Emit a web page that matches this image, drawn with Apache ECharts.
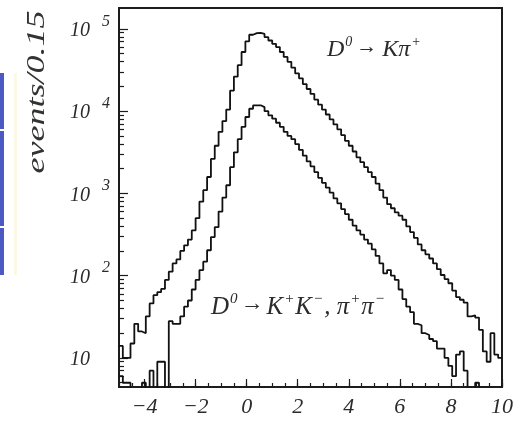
<!DOCTYPE html>
<html>
<head>
<meta charset="utf-8">
<script src="https://cdn.jsdelivr.net/npm/echarts@6/dist/echarts.min.js"></script>
<style>
  html, body { margin: 0; padding: 0; background: #ffffff; }
  #chart { width: 519px; height: 422px; }
</style>
</head>
<body>
<div id="chart"></div>
<script>
// Histogram binning: 100 bins of width 0.15 starting at -5
const binStart = -5;
const binWidth = 0.15;

// Events per bin, D0 -> K pi+
const kpiCounts = [
  14, 10, 10, 15, 26, 21, 20, 32, 46, 58,
  63, 69, 89, 112, 141, 158, 200, 234, 275, 355,
  501, 794, 1096, 1585, 2630, 3802, 5623, 7586, 10471, 17783,
  26303, 36308, 52481, 70795, 85114, 89125, 89600, 87096, 79433, 72444,
  66069, 60256, 52481, 45709, 39811, 33884, 28840, 25119, 21380, 18621,
  16218, 13804, 12023, 10471, 9120, 7943, 6918, 6026, 5129, 4365,
  3802, 3236, 2754, 2399, 2089, 1820, 1585, 1318, 1096, 891,
  741, 661, 589, 537, 479, 398, 339, 288, 240, 204,
  182, 162, 141, 120, 102, 91, 81, 66, 55, 51,
  47, 32, 33, 31, 22, 12, 9, 20, 11, 10
];

// Events per bin, D0 -> K+K-, pi+pi-
const hhCounts = [
  6, 5, 5, 0, 0, 0, 5, 0, 7, 0,
  9, 9, 0, 28, 26, 26, 32, 42, 50, 68,
  89, 117, 148, 204, 295, 389, 603, 891, 1259, 2089,
  3162, 4571, 6457, 8511, 10715, 11749, 11800, 11220, 10000, 8913,
  8128, 7244, 6457, 5623, 5012, 4571, 3981, 3388, 2884, 2455,
  2138, 1820, 1549, 1349, 1175, 1023, 871, 759, 646, 562,
  479, 407, 355, 316, 275, 245, 209, 174, 141, 107,
  117, 100, 89, 68, 52, 42, 36, 26, 25, 20,
  19, 17, 16, 13, 13, 10, 8, 6, 11, 12,
  7, 0, 0, 5, 0, 0, 0, 0, 0, 0
];

// Axis ticks
const xTickValues = [-4, -2, 0, 2, 4, 6, 8, 10];
const yDecades = [1, 2, 3, 4, 5];           // log10 of 10 ... 10^5
const yExponents = [2, 3, 4, 5];            // decades that carry a written exponent
const yMinorMultipliers = [2, 3, 4, 5, 6, 7, 8, 9];

// Axis ranges (x in units, y in log10 of events)
const xRange = [-5, 10];
const yRange = [0.647, 5.255];

function toLog(c) { return Math.log10(Math.max(c, 1)); }

// Step outline: one point at each bin's left edge, plus the closing right edge
function stepPoints(counts) {
  const pts = counts.map((c, i) => [binStart + i * binWidth, toLog(c)]);
  pts.push([binStart + counts.length * binWidth, toLog(counts[counts.length - 1])]);
  return pts;
}

const yMinorTicks = [];
for (let d = 0; d <= 5; d++) {
  yMinorMultipliers.forEach(k => {
    const v = d + Math.log10(k);
    if (v >= yRange[0] && v <= yRange[1]) yMinorTicks.push(v);
  });
}

const serif = 'Liberation Serif';
const textColor = '#2b2b2b';
const lineColor = '#111111';
const tickStyle = { color: '#1c1c1c', width: 1.2 };

function yAxisBase(extra) {
  return Object.assign({
    type: 'value', min: yRange[0], max: yRange[1],
    position: 'left',
    axisLine: { show: false, onZero: false },
    axisTick: { show: false },
    axisLabel: { show: false },
    splitLine: { show: false }
  }, extra);
}

const chart = echarts.init(document.getElementById('chart'), null, { renderer: 'canvas' });

chart.setOption({
  animation: false,
  backgroundColor: '#ffffff',
  grid: {
    left: 119, top: 8, right: 17, bottom: 35,
    show: true, borderColor: '#1c1c1c', borderWidth: 2,
    backgroundColor: 'transparent'
  },
  xAxis: [
    {
      type: 'value', min: xRange[0], max: xRange[1], interval: 0.5,
      position: 'bottom',
      axisLine: { show: false, onZero: false },
      axisTick: { show: true, inside: true, length: 4, lineStyle: tickStyle },
      axisLabel: { show: false },
      splitLine: { show: false }
    },
    {
      type: 'value', min: xRange[0], max: xRange[1],
      position: 'bottom',
      axisLine: { show: false, onZero: false },
      axisTick: { show: true, inside: true, length: 8, customValues: xTickValues, lineStyle: tickStyle },
      axisLabel: {
        customValues: xTickValues, margin: 9,
        fontFamily: serif, fontStyle: 'italic', fontSize: 22, color: textColor,
        formatter: v => (v < 0 ? '\u2212' + Math.abs(v) : String(v))
      },
      splitLine: { show: false }
    }
  ],
  yAxis: [
    // decades: long ticks and the "10" mantissa
    yAxisBase({
      axisTick: { show: true, inside: true, length: 9, customValues: yDecades, lineStyle: tickStyle },
      axisLabel: {
        customValues: yDecades, margin: 49, align: 'left', verticalAlign: 'middle',
        formatter: () => '{t|10}',
        rich: {
          t: { fontFamily: serif, fontStyle: 'italic', fontSize: 20, lineHeight: 20,
               color: textColor, padding: [4, 0, 0, 0] }
        }
      }
    }),
    // minor log ticks
    yAxisBase({
      axisTick: { show: true, inside: true, length: 5, customValues: yMinorTicks, lineStyle: tickStyle }
    }),
    // raised exponents
    yAxisBase({
      axisLabel: {
        customValues: yExponents, margin: 17, align: 'left', verticalAlign: 'middle',
        formatter: v => '{e|' + v + '}',
        rich: {
          e: { fontFamily: serif, fontStyle: 'italic', fontSize: 16, lineHeight: 16,
               color: textColor, padding: [0, 0, 15, 0] }
        }
      }
    })
  ],
  series: [
    {
      name: 'D0 -> K pi', type: 'line', step: 'end',
      xAxisIndex: 0, yAxisIndex: 0,
      data: stepPoints(kpiCounts),
      symbol: 'none', clip: true, silent: true,
      lineStyle: { color: lineColor, width: 1.8 }
    },
    {
      name: 'D0 -> KK, pipi', type: 'line', step: 'end',
      xAxisIndex: 0, yAxisIndex: 0,
      data: stepPoints(hhCounts),
      symbol: 'none', clip: true, silent: true,
      lineStyle: { color: lineColor, width: 1.8 }
    }
  ],
  graphic: [
    // slide edge strip at the far left
    { type: 'rect', shape: { x: 0, y: 73, width: 4, height: 56 }, style: { fill: '#4a59c4' } },
    { type: 'rect', shape: { x: 0, y: 131, width: 4, height: 95 }, style: { fill: '#4a59c4' } },
    { type: 'rect', shape: { x: 0, y: 228, width: 4, height: 47 }, style: { fill: '#4a59c4' } },
    { type: 'rect', shape: { x: 14, y: 73, width: 3, height: 202 }, style: { fill: '#fbf8e6' } },
    // y-axis title
    {
      type: 'text', x: 37, y: 92, rotation: Math.PI / 2, scaleX: 1.44,
      style: {
        text: 'events/0.15', fill: '#333333',
        font: 'italic 25px "Liberation Serif"',
        align: 'center', verticalAlign: 'middle'
      }
    },
    // decay-channel labels
    {
      type: 'text', x: 327, y: 50,
      style: {
        text: '{m|D}{u|0}{r|\u2192}{m|K\u03c0}{u|+}',
        align: 'left', verticalAlign: 'middle',
        rich: {
          m: { fontFamily: serif, fontStyle: 'italic', fontSize: 24, lineHeight: 24,
               fill: textColor, verticalAlign: 'bottom' },
          u: { fontFamily: serif, fontStyle: 'italic', fontSize: 14, lineHeight: 14,
               fill: textColor, padding: [0, 0, 13, 1], verticalAlign: 'bottom' },
          r: { fontFamily: serif, fontSize: 21, lineHeight: 21, fill: textColor,
               padding: [0, 5, 4, 4], verticalAlign: 'bottom' }
        }
      }
    },
    {
      type: 'text', x: 211, y: 307,
      style: {
        text: '{m|D}{u|0}{r|\u2192}{m|K}{u|+}{m|K}{u|\u2212}{m|, \u03c0}{u|+}{m|\u03c0}{u|\u2212}',
        align: 'left', verticalAlign: 'middle',
        rich: {
          m: { fontFamily: serif, fontStyle: 'italic', fontSize: 25, lineHeight: 25,
               fill: textColor, verticalAlign: 'bottom' },
          u: { fontFamily: serif, fontStyle: 'italic', fontSize: 15, lineHeight: 15,
               fill: textColor, padding: [0, 1, 13, 1], verticalAlign: 'bottom' },
          r: { fontFamily: serif, fontSize: 23, lineHeight: 23, fill: textColor,
               padding: [0, 3, 4, 2], verticalAlign: 'bottom' }
        }
      }
    }
  ]
});
</script>
</body>
</html>
